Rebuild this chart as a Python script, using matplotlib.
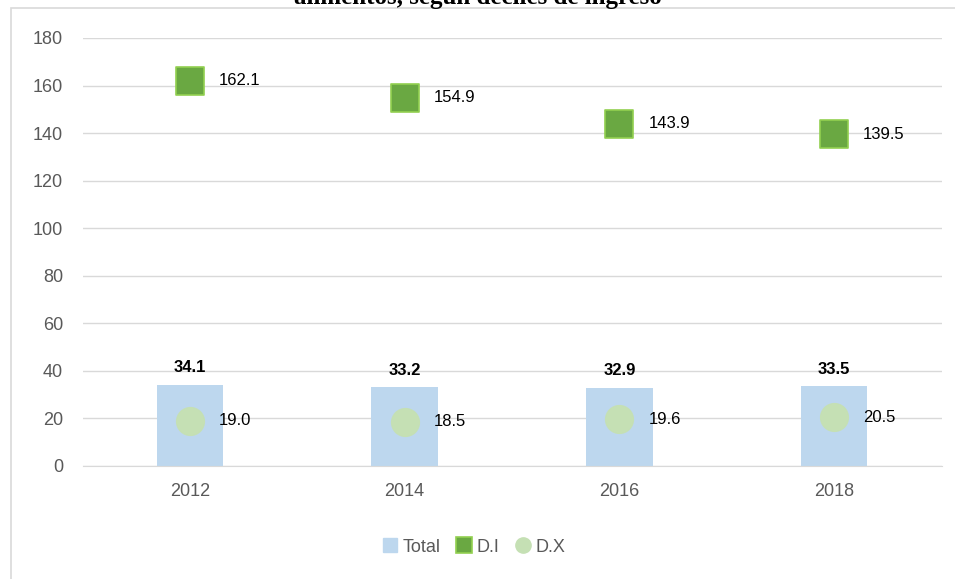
import matplotlib
matplotlib.use('Agg')
import matplotlib.pyplot as plt
from matplotlib.patches import Rectangle
from matplotlib.lines import Line2D
import numpy as np

years = ['2012', '2014', '2016', '2018']
total = [34.1, 33.2, 32.9, 33.5]
d_i = [162.1, 154.9, 143.9, 139.5]
d_x = [19.0, 18.5, 19.6, 20.5]
title = 'alimentos, según deciles de ingreso'

plt.rcParams['font.family'] = ['Liberation Sans', 'DejaVu Sans']

fig = plt.figure(figsize=(9.55, 5.79), dpi=100)
ax = fig.add_axes([0.0864, 0.1952, 0.8995, 0.7392])

# chart border
fig.patches.append(Rectangle((11 / 955, -0.01), 1.5, 1 - 8 / 579 + 0.01, transform=fig.transFigure,
                             fill=False, edgecolor='#D9D9D9', linewidth=1.2))

x = np.arange(len(years))
ax.bar(x, total, width=0.31, color='#BDD7EE', zorder=2)
ax.scatter(x, d_i, marker='s', s=400, color='#6AA842', edgecolors='#92D050', linewidths=1.2, zorder=3)
ax.scatter(x, d_x, marker='o', s=400, color='#C5E0B4', zorder=3)

for i in range(len(years)):
    ax.text(x[i], total[i] + 4, f'{total[i]:.1f}', ha='center', va='bottom',
            fontsize=12, fontweight='bold', color='black')
    ax.text(x[i] + 0.135, d_i[i], f'{d_i[i]:.1f}', ha='left', va='center', fontsize=12)
    ax.text(x[i] + 0.135, d_x[i], f'{d_x[i]:.1f}', ha='left', va='center', fontsize=12)

ax.set_xlim(-0.5, 3.5)
ax.set_ylim(0, 180)
ax.set_yticks(range(0, 181, 20))
ax.set_xticks(x)
ax.set_xticklabels(years)
ax.grid(axis='y', color='#D9D9D9', linewidth=1, zorder=0)
ax.set_axisbelow(True)
for s in ['top', 'right', 'left']:
    ax.spines[s].set_visible(False)
ax.spines['bottom'].set_color('#D9D9D9')
ax.tick_params(axis='both', length=0, labelsize=13, colors='#595959')
ax.tick_params(axis='y', pad=14)
ax.tick_params(axis='x', pad=12)

handles = [
    Line2D([], [], ls='none', marker='s', ms=10, color='#BDD7EE'),
    Line2D([], [], ls='none', marker='s', ms=11, color='#6AA842', mec='#92D050', mew=1.2),
    Line2D([], [], ls='none', marker='o', ms=11, color='#C5E0B4'),
]
ax.legend(handles, ['Total', 'D.I', 'D.X'], loc='center', bbox_to_anchor=(0.455, -0.19), ncol=3,
          frameon=False, fontsize=13, handletextpad=0.2, columnspacing=0.8, handlelength=1.0,
          labelcolor='#595959')

fig.text(0.5, 1 - 4 / 579, title, ha='center', va='baseline', fontsize=18, fontweight='bold',
         family=['Liberation Serif', 'DejaVu Serif'])

fig.savefig('out.png', dpi=100)
